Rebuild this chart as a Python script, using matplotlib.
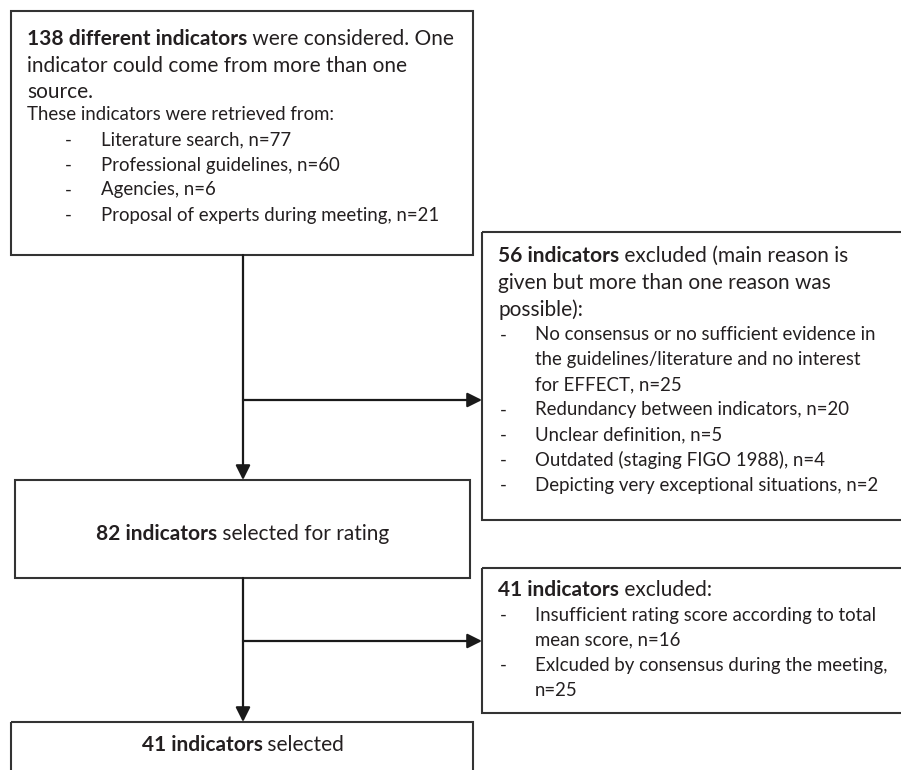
import matplotlib
matplotlib.use('Agg')
import matplotlib.pyplot as plt
from matplotlib.patches import Rectangle

plt.rcParams['font.family'] = ['Lato', 'DejaVu Sans']

# box contents
top_head = [('138 different indicators', True), (' were considered. One', False)]
top_lines = ['indicator could come from more than one', 'source.']
top_sub = 'These indicators were retrieved from:'
sources = ['Literature search', 'Professional guidelines', 'Agencies',
           'Proposal of experts during meeting']
source_n = [77, 60, 6, 21]

excl1_head = [('56 indicators', True), (' excluded (main reason is', False)]
excl1_lines = ['given but more than one reason was', 'possible):']
excl1_items = [['No consensus or no sufficient evidence in',
                'the guidelines/literature and no interest',
                'for EFFECT, n=25'],
               ['Redundancy between indicators, n=20'],
               ['Unclear definition, n=5'],
               ['Outdated (staging FIGO 1988), n=4'],
               ['Depicting very exceptional situations, n=2']]

rating = [('82 indicators', True), (' selected for rating', False)]

excl2_head = [('41 indicators', True), (' excluded:', False)]
excl2_items = [['Insufficient rating score according to total',
                'mean score, n=16'],
               ['Exlcuded by consensus during the meeting,',
                'n=25']]

final = [('41 indicators', True), (' selected', False)]

TXT = '#231f20'
LINE = '#333333'
BIG = 15.0
SMALL = 13.4

fig = plt.figure(figsize=(9.01, 7.70), dpi=100)
ax = fig.add_axes([0, 0, 1, 1])
ax.set_xlim(0, 901)
ax.set_ylim(770, 0)
ax.axis('off')
fig.canvas.draw()
renderer = fig.canvas.get_renderer()


def rich_line(x, y, parts, size, ha='left'):
    # draw bold/normal runs next to each other
    txts = []
    for s, bold in parts:
        t = ax.text(x, y, s, fontsize=size, color=TXT, va='center', ha='left',
                    fontweight='bold' if bold else 'normal')
        txts.append(t)
    widths = []
    for t in txts:
        bb = t.get_window_extent(renderer)
        widths.append(bb.width)
    total = sum(widths)
    x0 = x - total / 2 if ha == 'center' else x
    for t, w in zip(txts, widths):
        t.set_x(x0)
        x0 += w


def box(x0, y0, x1, y1):
    ax.add_patch(Rectangle((x0, y0), x1 - x0, y1 - y0, fill=False,
                           lw=1.5, ec=LINE))


def arrow(x0, y0, x1, y1):
    ax.annotate('', xy=(x1, y1), xytext=(x0, y0),
                arrowprops=dict(arrowstyle='-|>', lw=1.6, color='#1a1a1a',
                                mutation_scale=22, shrinkA=0, shrinkB=0))


def bullets(items, y, xd, xt, step):
    for item in items:
        ax.text(xd, y, '-', fontsize=SMALL, color=TXT, va='center')
        for ln in item:
            ax.text(xt, y, ln, fontsize=SMALL, color=TXT, va='center')
            y += step
    return y


# boxes
box(11, 11, 473, 255)
box(482, 232, 910, 520)
box(15, 480, 470, 578)
box(482, 568, 910, 713)
box(11, 722, 473, 800)

# top box text
rich_line(27, 39, top_head, BIG)
ax.text(27, 66, top_lines[0], fontsize=BIG, color=TXT, va='center')
ax.text(27, 92, top_lines[1], fontsize=BIG, color=TXT, va='center')
ax.text(27, 115, top_sub, fontsize=SMALL, color=TXT, va='center')
src_items = [[f'{s}, n={n}'] for s, n in zip(sources, source_n)]
bullets(src_items, 140, 65, 101, 25)

# first exclusion box
rich_line(498, 256, excl1_head, BIG)
ax.text(498, 283, excl1_lines[0], fontsize=BIG, color=TXT, va='center')
ax.text(498, 310, excl1_lines[1], fontsize=BIG, color=TXT, va='center')
bullets(excl1_items, 335, 500, 535, 25)

# middle and final boxes
rich_line(243, 534, rating, BIG, ha='center')
rich_line(243, 745, final, BIG, ha='center')

# second exclusion box
rich_line(498, 590, excl2_head, BIG)
bullets(excl2_items, 615, 500, 535, 25)

# connectors
arrow(243, 255, 243, 480)
arrow(243, 400, 482, 400)
arrow(243, 578, 243, 722)
arrow(243, 641, 482, 641)

plt.savefig('out.png', dpi=100)
